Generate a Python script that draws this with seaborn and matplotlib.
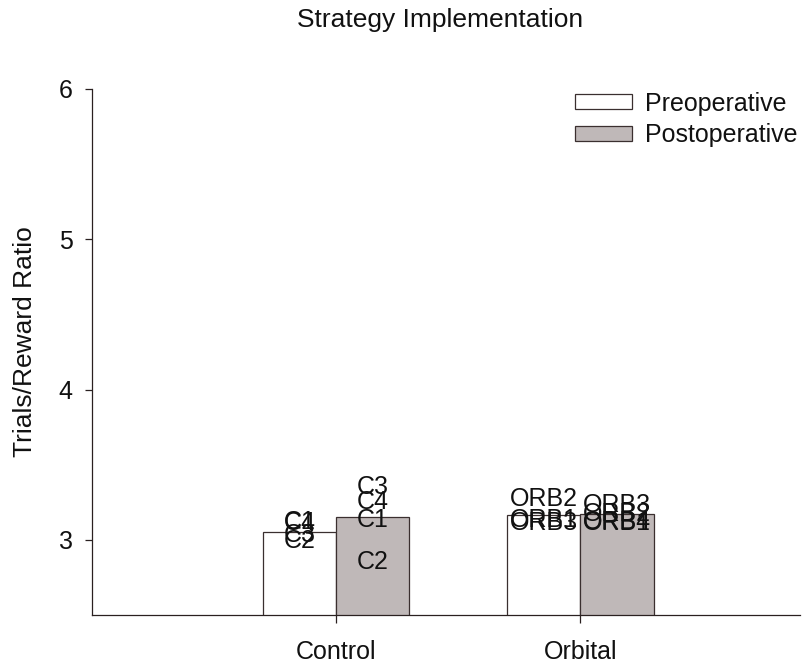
import matplotlib
matplotlib.use("Agg")
import matplotlib.pyplot as plt
import seaborn as sns
import pandas as pd
import numpy as np

categories = ["Control", "Orbital"]
phases = ["Preoperative", "Postoperative"]
means_pre = [3.053, 3.167]
means_post = [3.153, 3.170]

# individual subject labels and values
control_pre_labels = ["C1", "C4", "C3", "C2"]
control_pre_values = [3.12, 3.11, 3.03, 2.99]
control_post_labels = ["C3", "C4", "C1", "C2"]
control_post_values = [3.35, 3.25, 3.13, 2.85]
orbital_pre_labels = ["ORB2", "ORB1", "ORB3"]
orbital_pre_values = [3.27, 3.13, 3.11]
orbital_post_labels = ["ORB3", "ORB2", "ORB4", "ORB1"]
orbital_post_values = [3.23, 3.17, 3.12, 3.11]

sns.set_style("ticks")
plt.rcParams["font.family"] = ["Liberation Sans", "DejaVu Sans"]

df = pd.DataFrame({
    "group": categories * 2,
    "phase": [phases[0]] * 2 + [phases[1]] * 2,
    "value": means_pre + means_post,
})

fig = plt.figure(figsize=(8.04, 6.67), dpi=100)
ax = fig.add_axes([92 / 804, 52 / 667, 708 / 804, 526 / 667])

palette = {"Preoperative": "#ffffff", "Postoperative": "#bfb8b8"}
sns.barplot(data=df, x="group", y="value", hue="phase", order=categories,
            hue_order=phases, palette=palette, width=0.6, edgecolor="#3a2f2f",
            linewidth=0.9, ax=ax, errorbar=None, saturation=1)

ax.set_ylim(2.5, 6)
ax.set_xlim(-1, 1.9)
ax.set_yticks([3, 4, 5, 6])
ax.set_yticklabels(["3", "4", "5", "6"])
ax.tick_params(axis="both", labelsize=18, direction="out", width=0.9,
               color="#2a2020", labelcolor="#111")
ax.tick_params(axis="x", length=6, pad=12)
ax.tick_params(axis="y", length=5, pad=9)
ax.set_xlabel("")
ax.set_ylabel("Trials/Reward Ratio", fontsize=19, color="#111", va="center")
ax.yaxis.set_label_coords(-0.095, 0.519)
for s in ["top", "right"]:
    ax.spines[s].set_visible(False)
for s in ["left", "bottom"]:
    ax.spines[s].set_linewidth(0.9)
    ax.spines[s].set_color("#2a2020")

# subject labels centred on bars
label_sets = {
    (0, 0): (control_pre_labels, control_pre_values),
    (0, 1): (control_post_labels, control_post_values),
    (1, 0): (orbital_pre_labels, orbital_pre_values),
    (1, 1): (orbital_post_labels, orbital_post_values),
}
for h, cont in enumerate(ax.containers):
    for g, bar in enumerate(cont):
        cx = bar.get_x() + bar.get_width() / 2
        labs, vals = label_sets[(g, h)]
        for lab, v in zip(labs, vals):
            ax.text(cx, v, lab, ha="center", va="center", fontsize=18, color="#111")

leg = ax.legend(loc="upper right", frameon=False, fontsize=18, handlelength=2.3,
                handleheight=0.56, handletextpad=0.5, labelspacing=0.3,
                borderaxespad=0.0, borderpad=0.1, bbox_to_anchor=(1.0, 1.0))
for t in leg.get_texts():
    t.set_color("#111")
fig.suptitle("Strategy Implementation", x=440 / 804, y=1 - 8 / 667, fontsize=19,
             va="top", color="#111")

fig.savefig("out.png", dpi=100)
